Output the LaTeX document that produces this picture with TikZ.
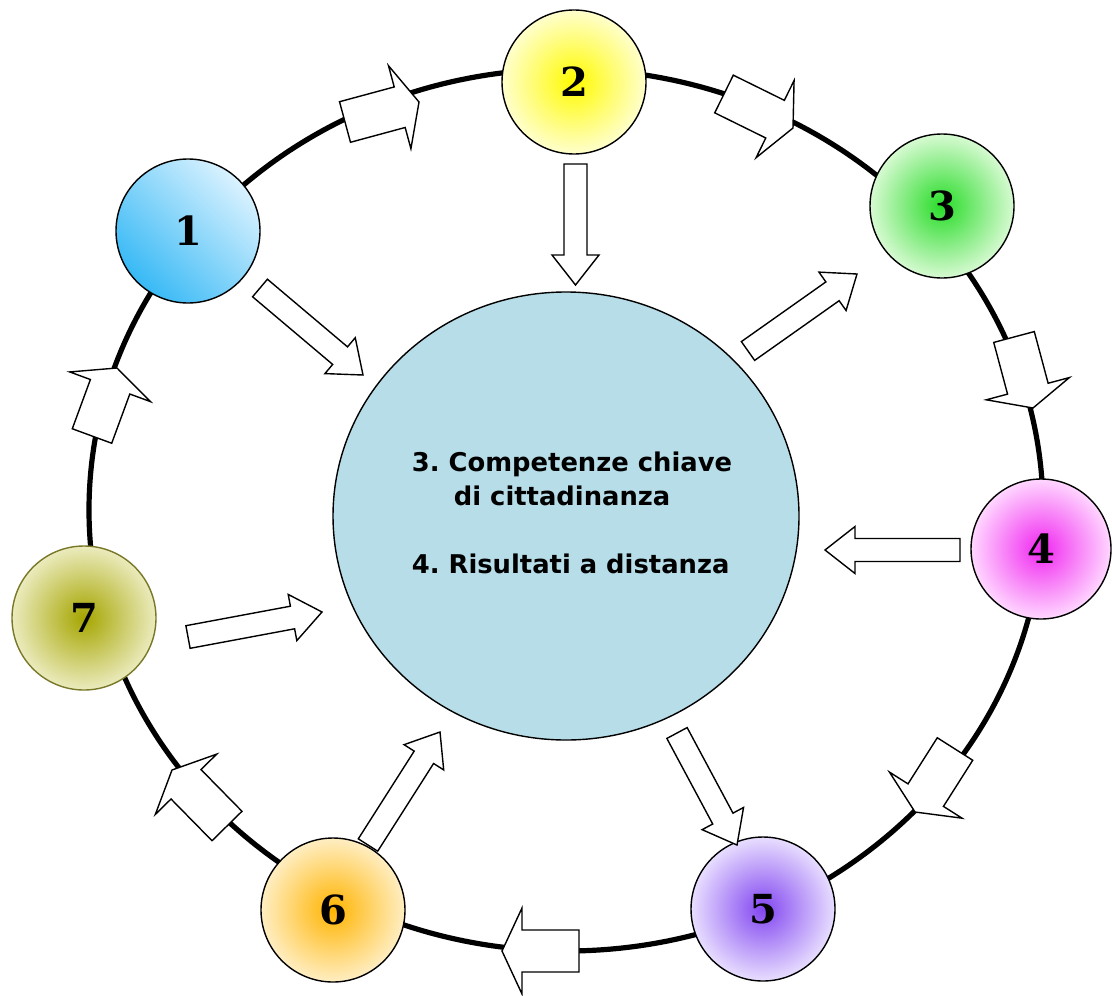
\documentclass[tikz,border=0pt]{standalone}
\usepackage{fontspec}
\setmainfont{DejaVu Sans}
\newfontfamily\numfont{DejaVu Serif}
\usetikzlibrary{calc,shapes.geometric}
\frenchspacing

\definecolor{centrefill}{RGB}{182,221,232}
\definecolor{oneLight}{RGB}{218,242,255}
\definecolor{oneDark}{RGB}{55,185,245}
\definecolor{twoIn}{RGB}{255,250,0}
\definecolor{twoOut}{RGB}{255,255,205}
\definecolor{threeIn}{RGB}{40,220,40}
\definecolor{threeOut}{RGB}{215,250,210}
\definecolor{fourIn}{RGB}{240,40,240}
\definecolor{fourOut}{RGB}{255,215,255}
\definecolor{fiveIn}{RGB}{130,70,240}
\definecolor{fiveOut}{RGB}{232,222,255}
\definecolor{sixIn}{RGB}{255,180,0}
\definecolor{sixOut}{RGB}{255,238,195}
\definecolor{sevenIn}{RGB}{165,165,0}
\definecolor{sevenOut}{RGB}{235,235,190}
\definecolor{sevenLine}{RGB}{120,120,40}

\tikzset{
  ringline/.style={line width=2.6pt},
  station/.style={circle, draw=black, line width=0.7pt, minimum size=72pt, inner sep=0pt,
    font=\numfont\bfseries\fontsize{20}{20}\selectfont},
  centrebox/.style={ellipse, draw=black, line width=0.7pt, fill=centrefill,
    minimum width=233pt, minimum height=224pt, inner sep=0pt},
  centretext/.style={align=left, font=\bfseries\fontsize{12.9}{17}\selectfont, inner sep=0pt},
  blockarrow/.style={draw=black, fill=white, line width=0.7pt, line join=miter},
}

% #1 tail, #2 tip, #3 shaft half width, #4 head half width, #5 head length
\newcommand\blockarr[5]{%
  \coordinate (hb) at ($(#2)!#5!(#1)$);
  \draw[blockarrow] ($(#1)!#3!90:(#2)$) -- ($(hb)!#3!90:(#2)$) -- ($(hb)!#4!90:(#2)$)
    -- (#2) -- ($(hb)!#4!-90:(#2)$) -- ($(hb)!#3!-90:(#2)$) -- ($(#1)!#3!-90:(#2)$) -- cycle;
}
\newcommand\ringarr[2]{\blockarr{#1}{#2}{10.5pt}{21.5pt}{10pt}}
\newcommand\innerarr[2]{\blockarr{#1}{#2}{5.75pt}{11.75pt}{15pt}}

\begin{document}
\begin{tikzpicture}[x=0.5pt,y=-0.5pt]
\useasboundingbox (0,0) rectangle (1112,995);

% ring
\draw[ringline] (566,510) ellipse [x radius=477, y radius=441];

% centre
\node[centrebox] (centre) at (566,516) {};
\node[centretext] (label) at (572,513) {3. Competenze chiave\\\hspace*{21pt}di cittadinanza\\[17pt]4. Risultati a distanza};

% stations
\node[station, top color=oneLight, bottom color=oneDark, shading angle=-45] (n1) at (188,231) {1};
\node[station, inner color=twoIn, outer color=twoOut] (n2) at (574,82) {2};
\node[station, inner color=threeIn, outer color=threeOut] (n3) at (942,206) {3};
\node[station, inner color=fourIn, outer color=fourOut, minimum size=70pt] (n4) at (1041,549) {4};
\node[station, inner color=fiveIn, outer color=fiveOut] (n5) at (763,909) {5};
\node[station, inner color=sixIn, outer color=sixOut] (n6) at (333,910) {6};
\node[station, inner color=sevenIn, outer color=sevenOut, draw=sevenLine] (n7) at (84,618) {7};

% ring arrow end points
\coordinate (a1) at (345,122);  \coordinate (a2) at (419,102);
\coordinate (b1) at (724,94);   \coordinate (b2) at (793,128);
\coordinate (c1) at (1014,337); \coordinate (c2) at (1033,408);
\coordinate (d1) at (955,749);  \coordinate (d2) at (915,812);
\coordinate (e1) at (579,951);  \coordinate (e2) at (502,951);
\coordinate (f1) at (227,826);  \coordinate (f2) at (172,770);
\coordinate (g1) at (92,436);   \coordinate (g2) at (117,368);

\ringarr{a1}{a2}
\ringarr{b1}{b2}
\ringarr{c1}{c2}
\ringarr{d1}{d2}
\ringarr{e1}{e2}
\ringarr{f1}{f2}
\ringarr{g1}{g2}

% inner arrow end points
\coordinate (p1) at (260,288);   \coordinate (q1) at (363,375);
\coordinate (p2) at (575.5,164); \coordinate (q2) at (575.5,285);
\coordinate (p3) at (748,351);   \coordinate (q3) at (857,274);
\coordinate (p4) at (960,550);   \coordinate (q4) at (825,550);
\coordinate (p5) at (677,733);   \coordinate (q5) at (737,845);
\coordinate (p6) at (368,845);   \coordinate (q6) at (440,732);
\coordinate (p7) at (188,637);   \coordinate (q7) at (322,612);

\innerarr{p1}{q1}
\innerarr{p2}{q2}
\innerarr{p3}{q3}
\innerarr{p4}{q4}
\innerarr{p5}{q5}
\innerarr{p6}{q6}
\innerarr{p7}{q7}
\end{tikzpicture}
\end{document}
